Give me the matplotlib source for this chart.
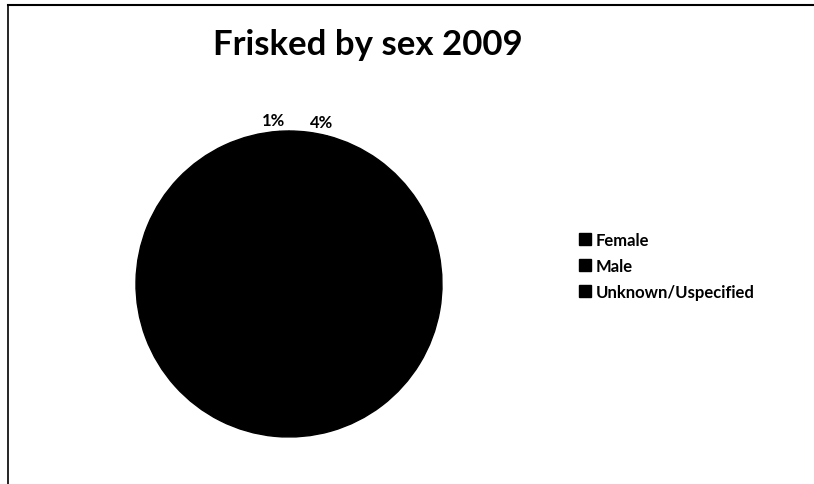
import matplotlib
matplotlib.use("Agg")
import matplotlib.pyplot as plt
from matplotlib.lines import Line2D

categories = ["Female", "Male", "Unknown/Uspecified"]
shares = [4, 95, 1]
title = "Frisked by sex 2009"

plt.rcParams['font.family'] = ['Lato', 'DejaVu Sans']

fig = plt.figure(figsize=(8.14, 4.85), dpi=100)

# pie axes: centre ~ (289, 285) px, radius ~153 px
half = 160 / 153
ax = fig.add_axes([(289 - 160) / 814, (200 - 160) / 485, 320 / 814, 320 / 485])


def pct_label(p):
    return f"{p:.0f}%" if p < 50 else ""


wedges, texts, autotexts = ax.pie(
    shares, colors=["black"] * 3, startangle=90, counterclock=False,
    autopct=pct_label, pctdistance=1.07,
    textprops=dict(fontsize=12, fontweight='bold', color='black'),
    wedgeprops=dict(linewidth=1, edgecolor='black'))
# spread the two small labels apart like Excel does
for t in autotexts:
    x, y = t.get_position()
    t.set_position((x + (0.08 if x > 0 else -0.07), y))

ax.set_xlim(-half, half)
ax.set_ylim(-half, half)
ax.set_aspect('equal')
ax.axis('off')

fig.text(368 / 814, 1 - 45 / 485, title, ha='center', va='center',
         fontsize=25, fontweight='bold')

handles = [Line2D([0], [0], marker='s', linestyle='none', markersize=9,
                  markerfacecolor='black', markeredgecolor='black')
           for _ in categories]
fig.legend(handles, categories, loc='center left',
           bbox_to_anchor=(564 / 814, 1 - 267 / 485), frameon=False,
           prop=dict(size=12, weight='bold'), handlelength=0.7,
           handletextpad=0.3, labelspacing=0.6)

# border lines (left and top)
fig.add_artist(Line2D([8 / 814, 8 / 814], [0, 1 - 6 / 485], color='black', lw=1.2))
fig.add_artist(Line2D([8 / 814, 1], [1 - 6 / 485, 1 - 6 / 485], color='black', lw=1.5))

fig.savefig("out.png", dpi=100)
